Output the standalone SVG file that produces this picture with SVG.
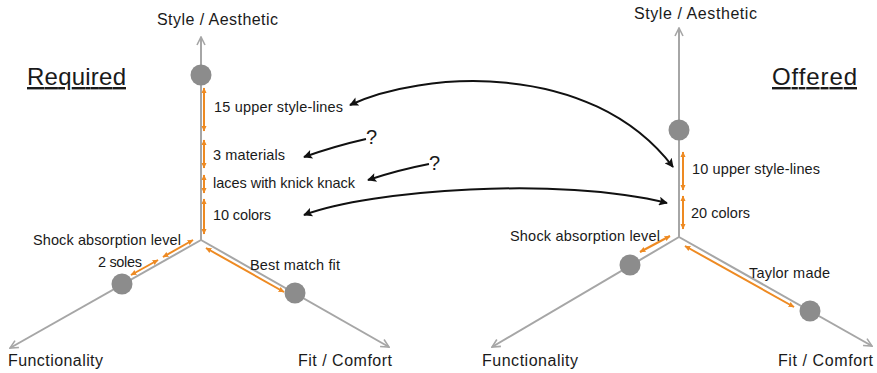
<svg xmlns="http://www.w3.org/2000/svg" width="877" height="373" viewBox="0 0 877 373">
  <defs>
    <marker id="axisHead" viewBox="0 0 10 10" refX="9" refY="5" markerWidth="10" markerHeight="10" markerUnits="userSpaceOnUse" orient="auto">
      <path d="M1,1 L9,5 L1,9" fill="none" stroke="#a6a6a6" stroke-width="1.6"/>
    </marker>
    <marker id="orangeHead" viewBox="0 0 10 10" refX="9" refY="5" markerWidth="6" markerHeight="6" markerUnits="userSpaceOnUse" orient="auto-start-reverse">
      <path d="M0,0.5 L10,5 L0,9.5 Z" fill="#ee8a22"/>
    </marker>
    <marker id="blackHead" viewBox="0 0 10 10" refX="9" refY="5" markerWidth="11" markerHeight="9" markerUnits="userSpaceOnUse" orient="auto-start-reverse">
      <path d="M0,0 L10,5 L0,10 L2,5 Z" fill="#111"/>
    </marker>
  </defs>
  <style>
    .axis { stroke: #a6a6a6; stroke-width: 2; fill: none; marker-end: url(#axisHead); }
    .dot { fill: #8c8c8c; }
    .span { stroke: #ee8a22; stroke-width: 2; fill: none; marker-start: url(#orangeHead); marker-end: url(#orangeHead); }
    .link { stroke: #111; stroke-width: 2; fill: none; }
    .lbl { font-family: "Liberation Sans", Arial, sans-serif; font-size: 14.5px; fill: #1a1a1a; }
    .ax { font-family: "Liberation Sans", Arial, sans-serif; font-size: 16px; fill: #1a1a1a; }
    .title { font-family: "Liberation Sans", Arial, sans-serif; font-size: 24px; fill: #1a1a1a; text-decoration: underline; }
    .q { font-family: "Liberation Sans", Arial, sans-serif; font-size: 20px; fill: #1a1a1a; }
  </style>

  <rect width="877" height="373" fill="#fff"/>

  <!-- Required profile -->
  <g id="required">
    <text class="title" x="27" y="85" textLength="99">Required</text>
    <g id="req-axes">
      <line class="axis" x1="201" y1="240" x2="201" y2="37"/>
      <line class="axis" x1="201" y1="240" x2="10" y2="348"/>
      <line class="axis" x1="201" y1="240" x2="389" y2="347"/>
    </g>
    <g id="req-style">
      <circle class="dot" cx="201" cy="75" r="10.5"/>
      <text class="ax" x="157" y="25" textLength="121">Style / Aesthetic</text>
    </g>
    <g id="req-function">
      <circle class="dot" cx="122" cy="284" r="10.5"/>
      <text class="ax" x="8" y="366" textLength="95">Functionality</text>
    </g>
    <g id="req-fit">
      <circle class="dot" cx="295" cy="293" r="10.5"/>
      <text class="ax" x="298" y="366" textLength="94">Fit / Comfort</text>
    </g>
    <g id="req-upper">
      <line class="span" x1="204" y1="88" x2="204" y2="131"/>
      <text class="lbl" x="214" y="112" textLength="129">15 upper style-lines</text>
    </g>
    <g id="req-materials">
      <line class="span" x1="204" y1="140" x2="204" y2="168"/>
      <text class="lbl" x="213" y="160" textLength="72">3 materials</text>
    </g>
    <g id="req-laces">
      <line class="span" x1="204" y1="175" x2="204" y2="193"/>
      <text class="lbl" x="213" y="188" textLength="142">laces with knick knack</text>
    </g>
    <g id="req-colors">
      <line class="span" x1="204" y1="199" x2="204" y2="234"/>
      <text class="lbl" x="213" y="220" textLength="58">10 colors</text>
    </g>
    <g id="req-shock">
      <line class="span" x1="193" y1="240" x2="163" y2="257"/>
      <text class="lbl" x="33" y="245" textLength="148">Shock absorption level</text>
    </g>
    <g id="req-soles">
      <line class="span" x1="158" y1="260" x2="131" y2="275"/>
      <text class="lbl" x="98" y="267" textLength="44">2 soles</text>
    </g>
    <g id="req-bestfit">
      <line class="span" x1="206" y1="248" x2="284" y2="292"/>
      <text class="lbl" x="250" y="270" textLength="90">Best match fit</text>
    </g>
  </g>

  <!-- Offered profile -->
  <g id="offered">
    <text class="title" x="772" y="85" textLength="85">Offered</text>
    <g id="off-axes">
      <line class="axis" x1="679" y1="237" x2="679" y2="28"/>
      <line class="axis" x1="679" y1="237" x2="492" y2="347"/>
      <line class="axis" x1="679" y1="237" x2="872" y2="346"/>
    </g>
    <g id="off-style">
      <circle class="dot" cx="679" cy="130" r="10.5"/>
      <text class="ax" x="634" y="19" textLength="123">Style / Aesthetic</text>
    </g>
    <g id="off-function">
      <circle class="dot" cx="630" cy="265" r="10.5"/>
      <text class="ax" x="482" y="366" textLength="96">Functionality</text>
    </g>
    <g id="off-fit">
      <circle class="dot" cx="810" cy="311" r="10.5"/>
      <text class="ax" x="778" y="366" textLength="95">Fit / Comfort</text>
    </g>
    <g id="off-upper">
      <line class="span" x1="683" y1="152" x2="683" y2="190"/>
      <text class="lbl" x="692" y="174" textLength="128">10 upper style-lines</text>
    </g>
    <g id="off-colors">
      <line class="span" x1="683" y1="196" x2="683" y2="229"/>
      <text class="lbl" x="691" y="218" textLength="59">20 colors</text>
    </g>
    <g id="off-shock">
      <line class="span" x1="670" y1="236" x2="640" y2="252"/>
      <text class="lbl" x="510" y="241" textLength="150">Shock absorption level</text>
    </g>
    <g id="off-tailor">
      <line class="span" x1="685" y1="246" x2="794" y2="307"/>
      <text class="lbl" x="749" y="278" textLength="81">Taylor made</text>
    </g>
  </g>

  <!-- Links between required and offered attributes -->
  <g id="connectors">
    <path class="link" d="M350,105 C420,72 590,58 673,167" marker-start="url(#blackHead)" marker-end="url(#blackHead)"/>
    <path class="link" d="M366,139 Q335,146 304,157" marker-end="url(#blackHead)"/>
    <text class="q" x="366" y="144">?</text>
    <path class="link" d="M429,164 Q398,170 368,180" marker-end="url(#blackHead)"/>
    <text class="q" x="429" y="170">?</text>
    <path class="link" d="M304,215 C370,190 560,176 667,203" marker-start="url(#blackHead)" marker-end="url(#blackHead)"/>
  </g>
</svg>
